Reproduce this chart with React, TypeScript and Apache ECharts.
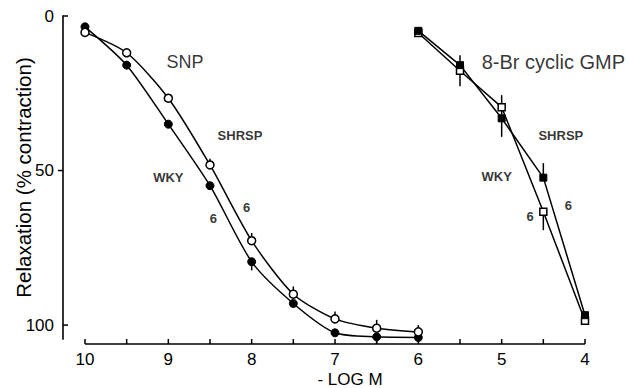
import React, { useEffect, useRef } from "react";
import * as echarts from "echarts";

// SNP panel
const snpX = [10, 9.5, 9, 8.5, 8, 7.5, 7, 6.5, 6];
const snpFilled = [3.5, 15.9, 35, 54.9, 79.5, 93, 102.5, 103.8, 104];
const snpOpen = [5.3, 11.9, 26.6, 48.2, 72.7, 90, 98, 101, 102.2];
const snpFilledErrUp = [0, 0, 0, 0, 0, 0, 0, 0, 0];
const snpFilledErrDown = [0, 0, 0, 0, 2.8, 0, 0, 2.2, 1.4];
const snpOpenErrUp = [0, 0, 0, 2, 2.5, 2.5, 2.4, 2.7, 2.2];
const snpOpenErrDown = [0, 0, 0, 0, 0, 0, 0, 0, 0];

// 8-Br cyclic GMP panel
const gmpX = [6, 5.5, 5, 4.5, 4];
const gmpFilled = [4.8, 15.9, 33.1, 52.3, 96.8];
const gmpOpen = [5.5, 17.7, 29.5, 63.3, 98.6];
const gmpFilledErrUp = [0, 0, 7.5, 4.7, 0];
const gmpFilledErrDown = [0, 0, 6, 0, 0];
const gmpOpenErrUp = [0, 5, 0, 0, 0];
const gmpOpenErrDown = [0, 5, 0, 6, 0];

// axes
const xAxisMin = 4;
const xAxisMax = 10;
const yAxisMin = 0;
const yAxisMax = 104.5;
const yAxisAtX = 10.264; // the y axis stands a little left of x = 10
const xTickValues = [10, 9.5, 9, 8.5, 8, 7.5, 7, 6.5, 6, 5.5, 5, 4.5, 4];
const yTickValues = [0, 50, 100];
const yTickDir = [1, -1, 1]; // 1 = tick drawn to the right of the axis, -1 = left

// annotations: [x, y, text, fontSize, weight]
const annotations: [number, number, string, number, string][] = [
  [8.8, 14.9, "SNP", 18, "normal"],
  [8.14, 38.5, "SHRSP", 13, "bold"],
  [9.0, 52.4, "WKY", 13, "bold"],
  [8.06, 62, "6", 13, "bold"],
  [8.46, 65.4, "6", 13, "bold"],
  [4.38, 14.9, "8-Br cyclic GMP", 20, "normal"],
  [4.29, 38.5, "SHRSP", 13, "bold"],
  [5.06, 51.8, "WKY", 13, "bold"],
  [4.2, 61.2, "6", 13, "bold"],
  [4.66, 64.9, "6", 13, "bold"],
];

const FONT = "'Liberation Sans', Arial, sans-serif";
const X_LINE_SHIFT = 5; // x axis line sits below the y-axis end
const TICK = 5;
const AXIS_W = 1.6;

function errData(xs: number[], ys: number[], up: number[], down: number[]) {
  const out: number[][] = [];
  xs.forEach((x, i) => {
    if (up[i] > 0 || down[i] > 0) out.push([x, ys[i], up[i], down[i]]);
  });
  return out;
}

function pairs(xs: number[], ys: number[]) {
  return xs.map((x, i) => [x, ys[i]]);
}

const errRender = (params: any, api: any) => {
  const x = api.value(0);
  const y = api.value(1);
  const up = api.value(2);
  const dn = api.value(3);
  const p1 = api.coord([x, y - up]);
  const p2 = api.coord([x, y + dn]);
  return {
    type: "line",
    shape: { x1: p1[0], y1: p1[1], x2: p2[0], y2: p2[1] },
    style: { stroke: "#000", lineWidth: 1.5 },
  };
};

// y-axis line drawn as a thin filled bar
const yLineRender = (params: any, api: any) => {
  const x = api.value(0);
  const p0 = api.coord([x, api.value(1)]);
  const p1 = api.coord([x, api.value(2)]);
  return {
    type: "rect",
    shape: { x: p0[0] - AXIS_W / 2, y: p0[1] - AXIS_W / 2, width: AXIS_W, height: p1[1] - p0[1] + AXIS_W },
    style: { fill: "#000" },
  };
};

// y-axis ticks: one item per tick value
const yTickRender = (params: any, api: any) => {
  const v = api.value(1);
  const dir = api.value(2);
  const p = api.coord([yAxisAtX, v]);
  return {
    type: "line",
    shape: { x1: p[0], y1: p[1], x2: p[0] + dir * TICK, y2: p[1] },
    style: { stroke: "#000", lineWidth: 1.5 },
  };
};

// x-axis line and ticks
const xFrameRender = (params: any, api: any) => {
  const children: any[] = [];
  const xl = api.coord([xAxisMax, yAxisMax]);
  const xr = api.coord([xAxisMin, yAxisMax]);
  const ay = xl[1] + X_LINE_SHIFT;
  children.push({
    type: "line",
    shape: { x1: xl[0], y1: ay, x2: xr[0], y2: ay },
    style: { stroke: "#000", lineWidth: 1.5 },
  });
  xTickValues.forEach((v) => {
    const p = api.coord([v, yAxisMax]);
    children.push({
      type: "line",
      shape: { x1: p[0], y1: ay, x2: p[0], y2: ay - TICK },
      style: { stroke: "#000", lineWidth: 1.5 },
    });
  });
  return { type: "group", children };
};

export default function App() {
  const ref = useRef<HTMLDivElement>(null);
  useEffect(() => {
    const chart = echarts.init(ref.current!, null, { renderer: "svg" });
    const lineStyle = { color: "#000", width: 1.5 };
    const filledItem = { color: "#000", borderColor: "#000", borderWidth: 1 };
    const openItem = { color: "#fff", borderColor: "#000", borderWidth: 1.5 };
    const errSeries = (data: number[][]) => ({
      type: "custom",
      renderItem: errRender,
      data,
      silent: true,
      clip: false,
      z: 1,
    });
    chart.setOption({
      animation: false,
      textStyle: { fontFamily: FONT, color: "#000" },
      grid: { left: 85, right: 44, top: 16, height: 323, containLabel: false, outerBoundsMode: "none" },
      xAxis: {
        type: "value",
        position: "bottom",
        min: xAxisMin,
        max: xAxisMax,
        interval: 0.5,
        inverse: true,
        axisLine: { show: false, onZero: false },
        axisTick: { show: false },
        splitLine: { show: false },
        axisLabel: {
          fontSize: 17,
          color: "#000",
          fontFamily: FONT,
          margin: 12,
          formatter: (v: number) => (Math.abs(v - Math.round(v)) < 1e-6 ? String(Math.round(v)) : ""),
        },
        name: "- LOG M",
        nameLocation: "middle",
        nameGap: 32,
        nameMoveOverlap: false,
        nameTextStyle: { fontSize: 17, color: "#000", fontFamily: FONT, padding: [0, 0, 0, 30] },
      },
      yAxis: {
        type: "value",
        min: yAxisMin,
        max: yAxisMax,
        interval: 50,
        inverse: true,
        axisLine: { show: false, onZero: false },
        axisTick: { show: false },
        splitLine: { show: false },
        axisLabel: {
          fontSize: 17,
          color: "#000",
          fontFamily: FONT,
          margin: 31,
          showMaxLabel: false,
          formatter: (v: number) => (yTickValues.indexOf(v) >= 0 ? String(v) : ""),
        },
        name: "Relaxation (% contraction)",
        nameLocation: "middle",
        nameGap: 51,
        nameMoveOverlap: false,
        nameTextStyle: { fontSize: 20.5, color: "#000", fontFamily: FONT },
      },
      series: [
        {
          type: "custom",
          renderItem: yLineRender,
          data: [[yAxisAtX, yAxisMin, yAxisMax]],
          silent: true,
          clip: false,
          z: 10,
        },
        {
          type: "custom",
          renderItem: yTickRender,
          data: yTickValues.map((v, i) => [yAxisAtX, v, yTickDir[i]]),
          silent: true,
          clip: false,
          z: 10,
        },
        {
          type: "custom",
          renderItem: xFrameRender,
          data: [[xAxisMax, yAxisMax]],
          silent: true,
          clip: false,
          z: 1,
        },
        errSeries(errData(snpX, snpFilled, snpFilledErrUp, snpFilledErrDown)),
        errSeries(errData(snpX, snpOpen, snpOpenErrUp, snpOpenErrDown)),
        errSeries(errData(gmpX, gmpFilled, gmpFilledErrUp, gmpFilledErrDown)),
        errSeries(errData(gmpX, gmpOpen, gmpOpenErrUp, gmpOpenErrDown)),
        {
          name: "SNP WKY",
          type: "line",
          data: pairs(snpX, snpFilled),
          smooth: 0.25,
          symbol: "circle",
          symbolSize: 8,
          showAllSymbol: true,
          clip: false,
          lineStyle,
          itemStyle: filledItem,
        },
        {
          name: "SNP SHRSP",
          type: "line",
          data: pairs(snpX, snpOpen),
          smooth: 0.25,
          symbol: "circle",
          symbolSize: 8,
          showAllSymbol: true,
          clip: false,
          lineStyle,
          itemStyle: openItem,
        },
        {
          name: "GMP open",
          type: "line",
          data: pairs(gmpX, gmpOpen),
          symbol: "rect",
          symbolSize: 7,
          showAllSymbol: true,
          clip: false,
          lineStyle,
          itemStyle: openItem,
        },
        {
          name: "GMP filled",
          type: "line",
          data: pairs(gmpX, gmpFilled),
          symbol: "rect",
          symbolSize: 7,
          showAllSymbol: true,
          clip: false,
          lineStyle,
          itemStyle: filledItem,
        },
        {
          type: "scatter",
          symbolSize: 0,
          silent: true,
          clip: false,
          z: 5,
          data: annotations.map(([x, y, t, fs, fw]) => ({
            value: [x, y],
            name: t,
            label: {
              show: true,
              position: "inside",
              formatter: t,
              fontSize: fs,
              fontWeight: fw,
              color: "#000",
              fontFamily: FONT,
            },
          })),
        },
      ],
    });
    return () => chart.dispose();
  }, []);
  return (
    <div
      ref={ref}
      style={{ position: "fixed", left: 0, top: 0, width: 629, height: 388, background: "#fff" }}
    />
  );
}
